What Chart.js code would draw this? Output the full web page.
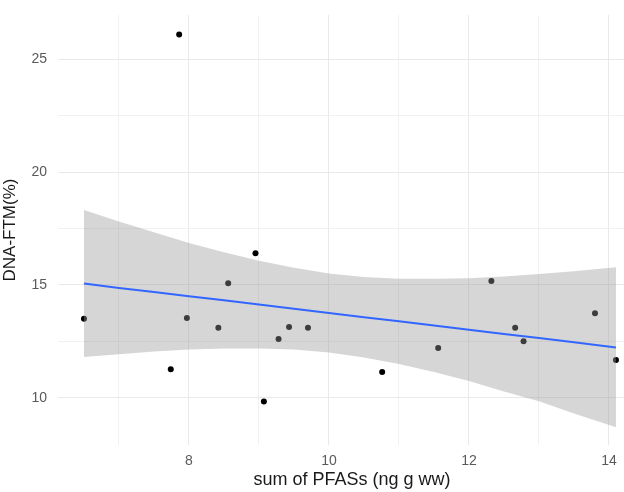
<!DOCTYPE html>
<html>
<head>
<meta charset="utf-8">
<script src="https://cdn.jsdelivr.net/npm/chart.js@4/dist/chart.umd.min.js"></script>
<style>
  html, body { margin: 0; padding: 0; background: #fff; overflow: hidden; }
  #wrap { width: 624px; height: 492px; overflow: hidden; }
  #chart { display: block; }
</style>
</head>
<body>
<div id="wrap"><canvas id="chart" width="650" height="492"></canvas></div>
<script>
// points
const pfasSum = [6.50, 7.74, 7.86, 7.97, 8.42, 8.56, 8.95, 9.07, 9.28, 9.43, 9.70, 10.76, 11.56, 12.32, 12.66, 12.78, 13.80, 14.10];
const dnaFtm  = [13.50, 11.27, 26.10, 13.54, 13.10, 15.08, 16.40, 9.84, 12.61, 13.14, 13.10, 11.14, 12.21, 15.18, 13.10, 12.51, 13.75, 11.68];

// smoother line + confidence band, read along the band
const fitX     = [6.5, 7, 7.5, 8, 8.5, 9, 9.5, 10, 10.5, 11, 11.5, 12, 12.5, 13, 13.5, 14.1];
const fitY     = [15.06, 14.87, 14.69, 14.50, 14.32, 14.13, 13.95, 13.76, 13.57, 13.39, 13.20, 13.02, 12.83, 12.65, 12.46, 12.23];
const fitUpper = [18.32, 17.81, 17.33, 16.86, 16.45, 16.07, 15.76, 15.51, 15.35, 15.28, 15.27, 15.30, 15.38, 15.49, 15.61, 15.78];
const fitLower = [11.81, 11.93, 12.05, 12.14, 12.19, 12.19, 12.14, 12.01, 11.79, 11.50, 11.14, 10.74, 10.28, 9.85, 9.31, 8.70];

const xTicksMajor = [8, 10, 12, 14];
const yTicksMajor = [10, 15, 20, 25];

const pts = (xs, ys) => xs.map((x, i) => ({ x, y: ys[i] }));

const police = 'Liberation Sans, Arial, sans-serif';
const grille = ctx => ctx.tick && (xTicksMajor.includes(ctx.tick.value) || yTicksMajor.includes(ctx.tick.value)) ? '#e9e9e9' : '#f1f1f1';

// the original panel runs past the right edge of the picture, so the canvas is a bit wider and cropped
new Chart(document.getElementById('chart'), {
  type: 'line',
  data: {
    datasets: [
      {
        label: 'points',
        data: pts(pfasSum, dnaFtm),
        showLine: false,
        pointRadius: 3,
        pointBorderWidth: 0,
        pointBackgroundColor: '#000',
        order: 3
      },
      {
        label: 'upper',
        data: pts(fitX, fitUpper),
        borderWidth: 0,
        pointRadius: 0,
        fill: '+1',
        backgroundColor: 'rgba(153,153,153,0.4)',
        order: 2
      },
      {
        label: 'lower',
        data: pts(fitX, fitLower),
        borderWidth: 0,
        pointRadius: 0,
        fill: false,
        order: 2
      },
      {
        label: 'fit',
        data: pts(fitX, fitY),
        borderColor: '#3366FF',
        borderWidth: 2,
        pointRadius: 0,
        fill: false,
        order: 1
      }
    ]
  },
  options: {
    responsive: false,
    animation: false,
    layout: { padding: { top: 15, right: 0, bottom: 0, left: 0 } },
    plugins: { legend: { display: false }, tooltip: { enabled: false } },
    scales: {
      x: {
        type: 'linear',
        min: 6.129,
        max: 14.529,
        afterFit: s => { s.height = 47; s.paddingLeft = 0; s.paddingRight = 0; },
        border: { display: false },
        grid: { color: grille, lineWidth: 1, drawTicks: false },
        ticks: {
          stepSize: 1,
          includeBounds: false,
          padding: 8,
          color: '#5a5a5a',
          font: { family: police, size: 14 },
          callback: v => xTicksMajor.includes(v) ? v : ''
        },
        title: {
          display: true,
          text: 'sum of PFASs (ng g ww)',
          color: '#1a1a1a',
          font: { family: police, size: 18 },
          padding: { top: 0, bottom: 1 }
        }
      },
      y: {
        min: 7.91,
        max: 26.96,
        afterFit: s => { s.width = 58; s.paddingTop = 0; s.paddingBottom = 0; },
        border: { display: false },
        grid: { color: grille, lineWidth: 1, drawTicks: false },
        ticks: {
          stepSize: 2.5,
          includeBounds: false,
          padding: 11,
          color: '#5a5a5a',
          font: { family: police, size: 14 },
          callback: v => yTicksMajor.includes(v) ? v : ''
        },
        title: {
          display: true,
          text: 'DNA-FTM(%)',
          color: '#1a1a1a',
          font: { family: police, size: 17 },
          padding: { top: 0, bottom: 0 }
        }
      }
    }
  }
});
</script>
</body>
</html>
